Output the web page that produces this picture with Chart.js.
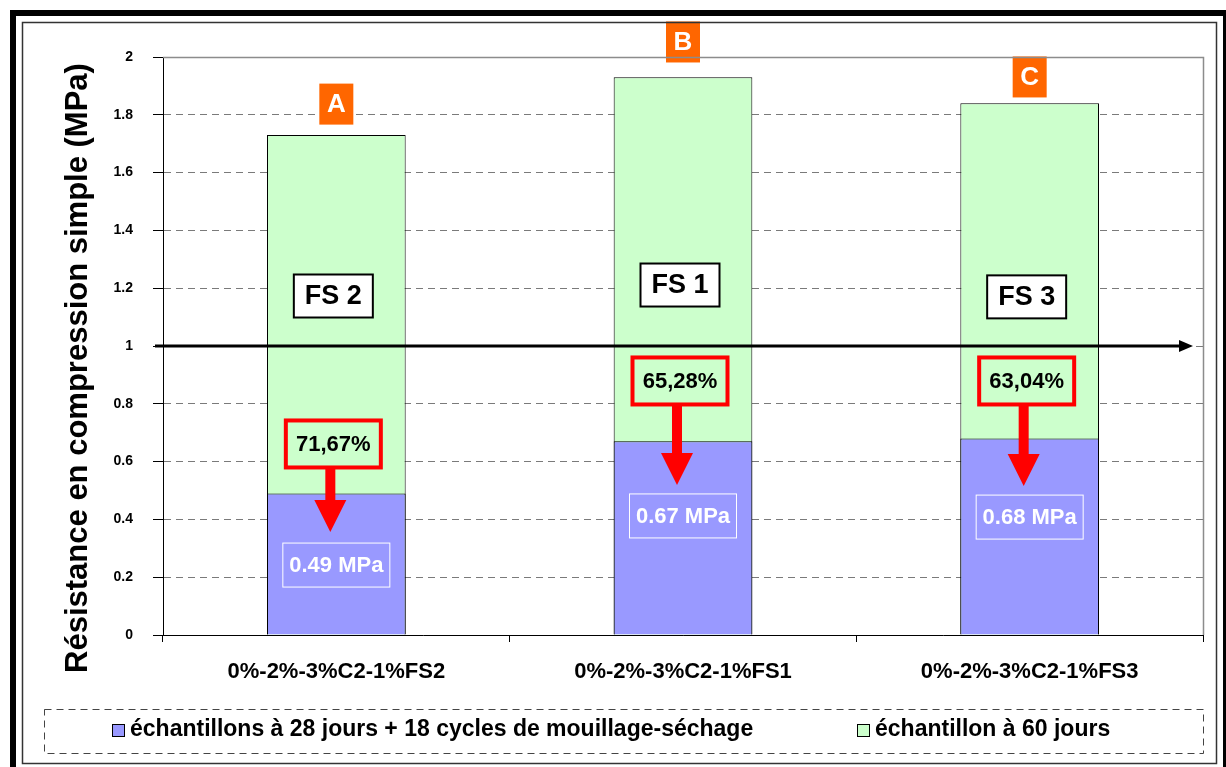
<!DOCTYPE html>
<html>
<head>
<meta charset="utf-8">
<script src="https://cdn.jsdelivr.net/npm/chart.js@4.4.0/dist/chart.umd.min.js"></script>
<style>
  html, body { margin: 0; padding: 0; background: #fff; }
</style>
</head>
<body>
<canvas id="chart" width="1226" height="767"></canvas>
<script>
// Data
const categories = ["0%-2%-3%C2-1%FS2", "0%-2%-3%C2-1%FS1", "0%-2%-3%C2-1%FS3"];
const cycledValues = [0.49, 0.67, 0.68];
const day60Values = [1.73, 1.93, 1.84];
const seriesNames = [
  "échantillons à 28 jours + 18 cycles de mouillage-séchage",
  "échantillon à 60 jours",
];
const barLetters = ["A", "B", "C"];
const fsLabels = ["FS 2", "FS 1", "FS 3"];
const lossLabels = ["71,67%", "65,28%", "63,04%"];
const yTickValues = [0, 0.2, 0.4, 0.6, 0.8, 1, 1.2, 1.4, 1.6, 1.8, 2];
const yTickLabels = ["0", "0.2", "0.4", "0.6", "0.8", "1", "1.2", "1.4", "1.6", "1.8", "2"];
const yTitle = "Résistance en compression simple (MPa)";
const thresholdValue = 1;

const FONT = "'Liberation Sans', Arial, sans-serif";
const PURPLE = "#9999FF";
const GREEN = "#CCFFCC";

// where the callouts sit, in axis units, one per bar
const spots = {
  letter: [1.837, 2.052, 1.931],
  fs: [1.173, 1.211, 1.17],
  loss: [0.661, 0.879, 0.879],
  arrowTip: [0.356, 0.519, 0.516],
  mpa: [0.242, 0.412, 0.408],
};

const box = (ctx, cx, cy, w, h, fill, stroke, lw) => {
  if (fill) {
    ctx.fillStyle = fill;
    ctx.fillRect(cx - w / 2, cy - h / 2, w, h);
  }
  if (stroke) {
    ctx.strokeStyle = stroke;
    ctx.lineWidth = lw;
    ctx.strokeRect(cx - w / 2, cy - h / 2, w, h);
  }
};

const text = (ctx, str, cx, cy, size, color) => {
  ctx.font = "bold " + size + "px " + FONT;
  ctx.fillStyle = color;
  ctx.textAlign = "center";
  ctx.textBaseline = "middle";
  ctx.fillText(str, cx, cy);
};

// Frame, y title, plot border and legend
const framePlugin = {
  id: "frame",
  beforeDraw(chart) {
    const { ctx, width, height } = chart;
    ctx.save();
    ctx.fillStyle = "#fff";
    ctx.fillRect(0, 0, width, height);
    ctx.restore();
  },
  afterDraw(chart) {
    const { ctx, chartArea } = chart;
    ctx.save();
    // outer thick frame (cut by the picture edge on right/bottom)
    ctx.fillStyle = "#000";
    ctx.fillRect(10, 10, 1216, 6);
    ctx.fillRect(10, 10, 6, 757);
    ctx.fillRect(1223, 10, 3, 757);
    // inner thin frame
    ctx.strokeStyle = "#333";
    ctx.lineWidth = 1.5;
    ctx.strokeRect(22.5, 22.5, 1194, 741);
    // plot area top/right border
    ctx.strokeStyle = "#8c8c8c";
    ctx.lineWidth = 1.5;
    ctx.beginPath();
    ctx.moveTo(chartArea.left, chartArea.top + 0.5);
    ctx.lineTo(chartArea.right + 0.5, chartArea.top + 0.5);
    ctx.lineTo(chartArea.right + 0.5, chartArea.bottom);
    ctx.stroke();

    // y axis title
    ctx.save();
    ctx.translate(78, 368);
    ctx.rotate(-Math.PI / 2);
    text(ctx, yTitle, 0, 0, 31, "#000");
    ctx.restore();

    // legend with dashed box
    ctx.strokeStyle = "#444";
    ctx.lineWidth = 1;
    ctx.setLineDash([7, 5]);
    ctx.strokeRect(44.5, 709.5, 1159, 44);
    ctx.setLineDash([]);
    const items = [
      { x: 112, color: chart.data.datasets[0].backgroundColor, label: chart.data.datasets[0].label },
      { x: 857, color: chart.data.datasets[1].backgroundColor, label: chart.data.datasets[1].label },
    ];
    items.forEach((it) => {
      ctx.fillStyle = it.color;
      ctx.fillRect(it.x, 724, 12, 12);
      ctx.strokeStyle = "#000";
      ctx.lineWidth = 1;
      ctx.strokeRect(it.x + 0.5, 724.5, 12, 12);
      ctx.font = "bold 23px " + FONT;
      ctx.fillStyle = "#000";
      ctx.textAlign = "left";
      ctx.textBaseline = "middle";
      ctx.fillText(it.label, it.x + 18, 730);
    });
    ctx.restore();
  },
};

// Callouts: threshold arrow, letters, FS boxes, loss boxes, MPa boxes
const calloutPlugin = {
  id: "callouts",
  afterDatasetsDraw(chart) {
    const { ctx, chartArea, scales } = chart;
    const y = scales.y;
    const bars = chart.getDatasetMeta(1).data;
    ctx.save();

    // threshold line at 1 MPa with arrow head
    const ty = Math.round(y.getPixelForValue(thresholdValue));
    ctx.fillStyle = "#000";
    ctx.fillRect(chartArea.left - 8, ty - 1.5, 1180 - (chartArea.left - 8), 3);
    ctx.beginPath();
    ctx.moveTo(1179, ty - 6);
    ctx.lineTo(1193, ty);
    ctx.lineTo(1179, ty + 6);
    ctx.closePath();
    ctx.fill();

    bars.forEach((bar, i) => {
      const cx = bar.x;

      // orange letter tag
      const ly = y.getPixelForValue(spots.letter[i]);
      box(ctx, cx, ly, 34, 41, "#FF6600");
      text(ctx, barLetters[i], cx, ly + 1, 26, "#fff");

      // FS box
      const fy = y.getPixelForValue(spots.fs[i]);
      box(ctx, cx - 3, fy, 79, 43, "#fff", "#000", 2);
      text(ctx, fsLabels[i], cx - 3, fy + 1, 27, "#000");

      // loss box + red arrow
      const bx = cx - 3;
      const by = y.getPixelForValue(spots.loss[i]);
      box(ctx, bx, by, 95, 47, null, "#FF0000", 4);
      text(ctx, lossLabels[i], bx, by + 1, 22, "#000");
      const tip = y.getPixelForValue(spots.arrowTip[i]);
      const ax = cx - 6;
      ctx.fillStyle = "#FF0000";
      ctx.fillRect(ax - 5, by + 25, 10, tip - 31 - (by + 25));
      ctx.beginPath();
      ctx.moveTo(ax - 16, tip - 32);
      ctx.lineTo(ax + 16, tip - 32);
      ctx.lineTo(ax, tip);
      ctx.closePath();
      ctx.fill();

      // MPa value box
      const my = y.getPixelForValue(spots.mpa[i]);
      box(ctx, cx, my, 107, 44, null, "#ffffff", 1);
      text(ctx, cycledValues[i].toFixed(2) + " MPa", cx, my + 1, 22, "#fff");
    });
    ctx.restore();
  },
};

new Chart(document.getElementById("chart"), {
  type: "bar",
  plugins: [framePlugin, calloutPlugin],
  data: {
    labels: categories,
    datasets: [
      {
        label: seriesNames[0],
        data: cycledValues,
        backgroundColor: PURPLE,
        borderColor: "#000",
        borderWidth: 1,
        order: 0,
      },
      {
        label: seriesNames[1],
        data: day60Values,
        backgroundColor: GREEN,
        borderColor: "#000",
        borderWidth: 1,
        order: 1,
      },
    ],
  },
  options: {
    responsive: false,
    animation: false,
    layout: { padding: { top: 57, right: 23, bottom: 72, left: 0 } },
    plugins: {
      legend: { display: false },
      tooltip: { enabled: false },
    },
    datasets: {
      bar: { grouped: false, categoryPercentage: 1, barPercentage: 0.4 },
    },
    scales: {
      x: {
        afterFit: (axis) => { axis.height = 60; },
        border: { color: "#000", width: 1 },
        grid: {
          drawOnChartArea: false,
          drawTicks: true,
          tickLength: 7,
          tickColor: "#000",
          offset: true,
        },
        ticks: {
          color: "#000",
          padding: 17,
          font: { family: FONT, size: 22, weight: "bold" },
        },
      },
      y: {
        min: 0,
        max: 2,
        afterFit: (axis) => { axis.width = 163; },
        afterBuildTicks: (axis) => {
          axis.ticks = yTickValues.map((v) => ({ value: v }));
        },
        border: { color: "#000", width: 1, dash: [7, 5] },
        grid: {
          color: "#7a7a7a",
          tickLength: 10,
          tickColor: "#000",
          tickBorderDash: [],
        },
        ticks: {
          color: "#000",
          padding: 20,
          font: { family: FONT, size: 14, weight: "bold" },
          callback: (value, index) => yTickLabels[index],
        },
      },
    },
  },
});
</script>
</body>
</html>
